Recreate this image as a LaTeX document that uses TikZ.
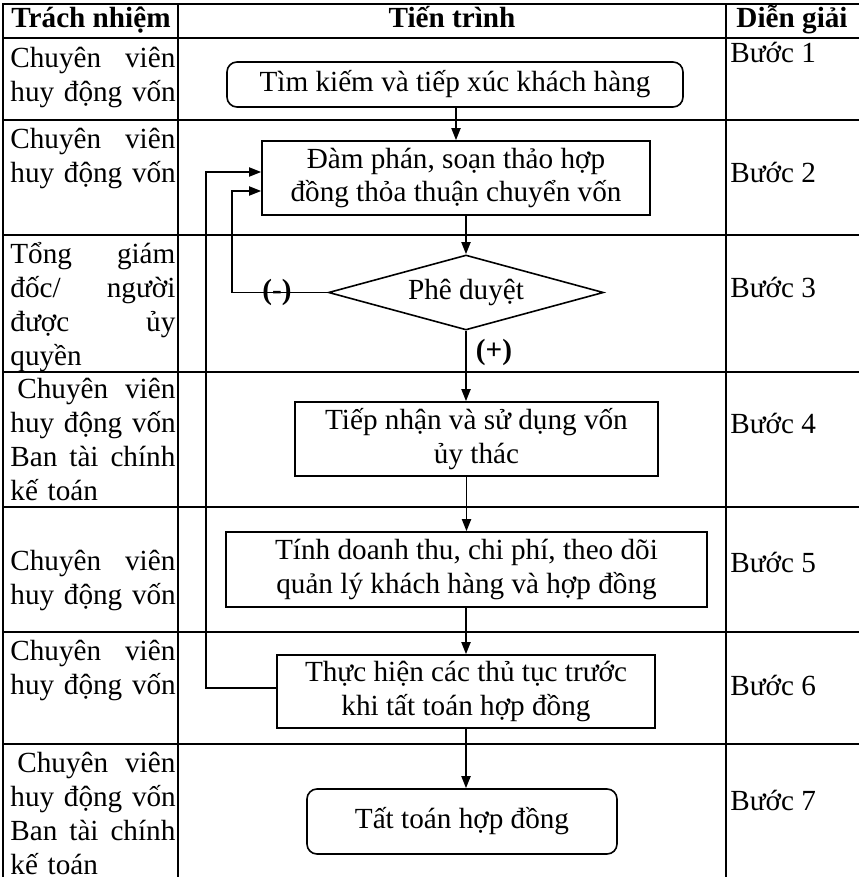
\documentclass[tikz,border=0pt]{standalone}
\usepackage{fontspec}
\setmainfont{Liberation Serif}
\usetikzlibrary{arrows.meta}
\usetikzlibrary{shapes.geometric}
\usetikzlibrary{positioning}
\tikzset{
  > = {Triangle[length=6pt, width=4.5pt]},
  every node/.style = {font=\fontsize{14.6}{17}\selectfont, inner sep=0pt},
  grid/.style = {line width=1.4pt, line cap=rect},
  head/.style = {anchor=base, font=\fontsize{14.6}{17}\selectfont\bfseries},
  resp/.style = {anchor=north west, text width=82.5pt, align=left},
  note/.style = {anchor=base west},
  process/.style = {draw, line width=0.8pt, align=center},
  terminal/.style = {process, rounded corners=5pt},
  decision/.style = {draw, diamond, line width=0.8pt, aspect=3.6,
    minimum width=137.5pt, minimum height=37.5pt},
  flow/.style = {->, line width=0.9pt},
  sign/.style = {font=\fontsize{14.6}{17}\selectfont\bfseries}
}

\begin{document}
\begin{tikzpicture}[x=0.5pt, y=-0.5pt]
  \useasboundingbox (0,0) rectangle (858,877);
  % table
  \foreach \y in {4,38,120,235,372,507,632,744}
    \draw [grid] (3,\y) -- (858,\y);
  \foreach \x in {3,178,726}
    \draw [grid] (\x,4) -- (\x,877);
  % header
  \node [head] (hd1) at (91,28) {Trách nhiệm};
  \node [head] (hd2) at (452,28) {Tiến trình};
  \node [head] (hd3) at (792,28) {Diễn giải};
  % responsibilities
  \node [resp] (resp1) at (10,47) {Chuyên \hfill viên\\\mbox{huy động vốn}};
  \node [resp] (resp2) at (10,128) {Chuyên \hfill viên\\\mbox{huy động vốn}};
  \node [resp] (resp3) at (10,242) {Tổng \hfill giám\\đốc/ \hfill người\\được \hfill ủy\\quyền};
  \node [resp] (resp4) at (10,378) {\hspace{3.5pt}Chuyên \hfill viên\\\mbox{huy động vốn}\\Ban \hfill tài \hfill chính\\kế toán};
  \node [resp] (resp5) at (10,550) {Chuyên \hfill viên\\\mbox{huy động vốn}};
  \node [resp] (resp6) at (10,640) {Chuyên \hfill viên\\\mbox{huy động vốn}};
  \node [resp] (resp7) at (10,752) {\hspace{3.5pt}Chuyên \hfill viên\\\mbox{huy động vốn}\\Ban \hfill tài \hfill chính\\kế toán};
  % steps
  \node [note] (buoc1) at (730,63) {Bước 1};
  \node [note] (buoc2) at (730,183) {Bước 2};
  \node [note] (buoc3) at (730,297) {Bước 3};
  \node [note] (buoc4) at (730,433) {Bước 4};
  \node [note] (buoc5) at (730,572) {Bước 5};
  \node [note] (buoc6) at (730,695) {Bước 6};
  \node [note] (buoc7) at (730,810) {Bước 7};
  % flow
  \node [terminal, minimum width=228pt, minimum height=22.5pt] (timkiem) at (455,84.5) {Tìm kiếm và tiếp xúc khách hàng};
  \node [process, minimum width=194pt, minimum height=37pt] (damphan) at (456,178) {Đàm phán, soạn thảo hợp\\đồng thỏa thuận chuyển vốn};
  \node [decision] (pheduyet) at (466,292.5) {Phê duyệt};
  \node [process, minimum width=181.5pt, minimum height=37pt] (tiepnhan) at (476.5,439) {Tiếp nhận và sử dụng vốn\\ủy thác};
  \node [process, minimum width=240.5pt, minimum height=37.5pt] (doanhthu) at (466.5,569.5) {Tính doanh thu, chi phí, theo dõi\\quản lý khách hàng và hợp đồng};
  \node [process, minimum width=189pt, minimum height=36.5pt] (thuctuc) at (466,691.5) {Thực hiện các thủ tục trước\\khi tất toán hợp đồng};
  \node [terminal, minimum width=155pt, minimum height=32.5pt] (tattoan) at (462,821.5) {Tất toán hợp đồng};
  \coordinate (loopin) at (232,191);
  \coordinate (loopout) at (206,172);
  % paths
  \draw [flow] (timkiem.south -| damphan.north) -- (damphan.north);
  \draw [flow] (damphan.south -| pheduyet.north) -- (pheduyet.north);
  \draw [flow] (pheduyet.south) -- (pheduyet.south |- tiepnhan.north);
  \draw [flow] (tiepnhan.south -| doanhthu.north) -- (doanhthu.north);
  \draw [flow] (doanhthu.south -| thuctuc.north) -- (thuctuc.north);
  \draw [flow] (thuctuc.south) -- (thuctuc.south |- tattoan.north);
  \draw [flow] (pheduyet.west) -| (loopin) -- (loopin -| damphan.west);
  \draw [flow] ([yshift=1.75pt]thuctuc.west) -| (loopout) -- (loopout -| damphan.west);
  \node [sign] (minus) at (277,292) {(-)};
  \node [sign] (plus) at (494,352) {(+)};
\end{tikzpicture}
\end{document}
